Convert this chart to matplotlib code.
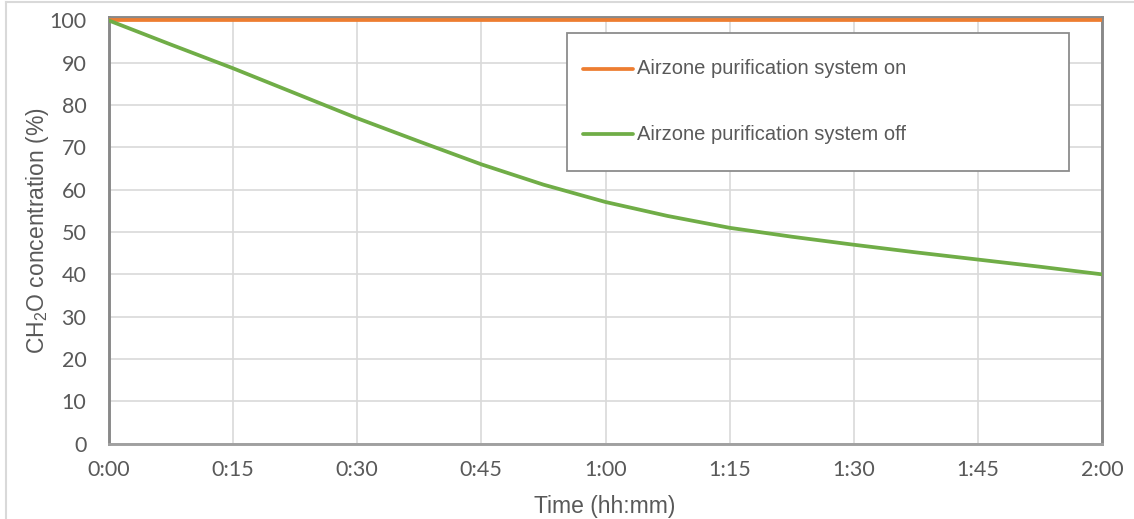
import matplotlib
matplotlib.use("Agg")
import matplotlib.pyplot as plt
from matplotlib.lines import Line2D
from matplotlib.patches import Rectangle

# elapsed time in minutes and CH2O concentration (%) for both runs
minutes = [0, 7.5, 15, 22.5, 30, 37.5, 45, 52.5, 60, 67.5, 75, 82.5, 90, 97.5, 105, 112.5, 120]
system_off = [100, 94.3, 88.7, 82.8, 76.9, 71.4, 66.0, 61.2, 57.1, 53.8, 51.0, 48.9, 47.0, 45.2, 43.5, 41.8, 40.0]
system_on = [100] * len(minutes)

x_ticks = [0, 15, 30, 45, 60, 75, 90, 105, 120]
x_tick_labels = ["0:00", "0:15", "0:30", "0:45", "1:00", "1:15", "1:30", "1:45", "2:00"]
y_ticks = [0, 10, 20, 30, 40, 50, 60, 70, 80, 90, 100]

label_on = "Airzone purification system on"
label_off = "Airzone purification system off"

ORANGE = "#ED7D31"
GREEN = "#70AD47"
TXT = "#595959"
EDGE = "#898989"

plt.rcParams["mathtext.fontset"] = "custom"
plt.rcParams["mathtext.rm"] = "Liberation Sans"
plt.rcParams["mathtext.it"] = "Liberation Sans:italic"

W, H = 1134, 519
fig = plt.figure(figsize=(W / 100, H / 100), dpi=100)
fig.patch.set_facecolor("white")

# chart area frame (only left/top edges fall inside the image)
fig.add_artist(Line2D([6 / W, 6 / W], [0, 1 - 2 / H], color="#D9D9D9", lw=1.5))
fig.add_artist(Line2D([6 / W, 1], [1 - 2 / H, 1 - 2 / H], color="#D9D9D9", lw=1.5))

left, right = 108.7 / W, 1102.3 / W
bottom, top = 1 - 443.7 / H, 1 - 16.6 / H
ax = fig.add_axes([left, bottom, right - left, top - bottom])

ax.plot(minutes, system_on, color=ORANGE, lw=2.7, solid_capstyle="butt", zorder=3)
ax.plot(minutes, system_off, color=GREEN, lw=2.7, solid_capstyle="round", zorder=3)

ax.set_xlim(0, 120)
ax.set_ylim(0, 100.9)
ax.set_xticks(x_ticks)
ax.set_xticklabels(x_tick_labels)
ax.set_yticks(y_ticks)
ax.grid(True, color="#D9D9D9", lw=1.2, zorder=0)
ax.set_axisbelow(True)
ax.tick_params(length=0, labelsize=15.5, labelcolor=TXT)
ax.tick_params(axis="y", pad=16)
ax.tick_params(axis="x", pad=12)
for lab in ax.get_xticklabels() + ax.get_yticklabels():
    lab.set_fontfamily("Lato")

for side in ["left", "bottom", "top", "right"]:
    ax.spines[side].set_color(EDGE)
    ax.spines[side].set_linewidth(2.1)
ax.spines["bottom"].set_color("#A0A0A0")

fig.text(605 / W, 1 - 506 / H, "Time (hh:mm)", ha="center", va="center",
         fontsize=16.5, color=TXT, family="Liberation Sans")
fig.text(38 / W, 1 - 231 / H, r"CH$_2$O concentration (%)", ha="center", va="center",
         rotation=90, fontsize=16.5, color=TXT, family="Liberation Sans")

# legend box drawn by hand so the padding can be set exactly
bx0, by0, bx1, by1 = 567, 32.7, 1069, 171
fig.add_artist(Rectangle((bx0 / W, 1 - by1 / H), (bx1 - bx0) / W, (by1 - by0) / H,
                         facecolor="white", edgecolor="#8C8C8C", lw=1.3, zorder=5))
for yc, col, lab in [(68.5, ORANGE, label_on), (134.3, GREEN, label_off)]:
    fig.add_artist(Line2D([583 / W, 633 / W], [1 - yc / H, 1 - yc / H], color=col,
                          lw=2.7, solid_capstyle="round", zorder=6))
    fig.text(637 / W, 1 - yc / H, lab, ha="left", va="center", fontsize=14.5,
             color=TXT, family="Liberation Sans", zorder=6)

fig.savefig("out.png", dpi=100, facecolor="white")
